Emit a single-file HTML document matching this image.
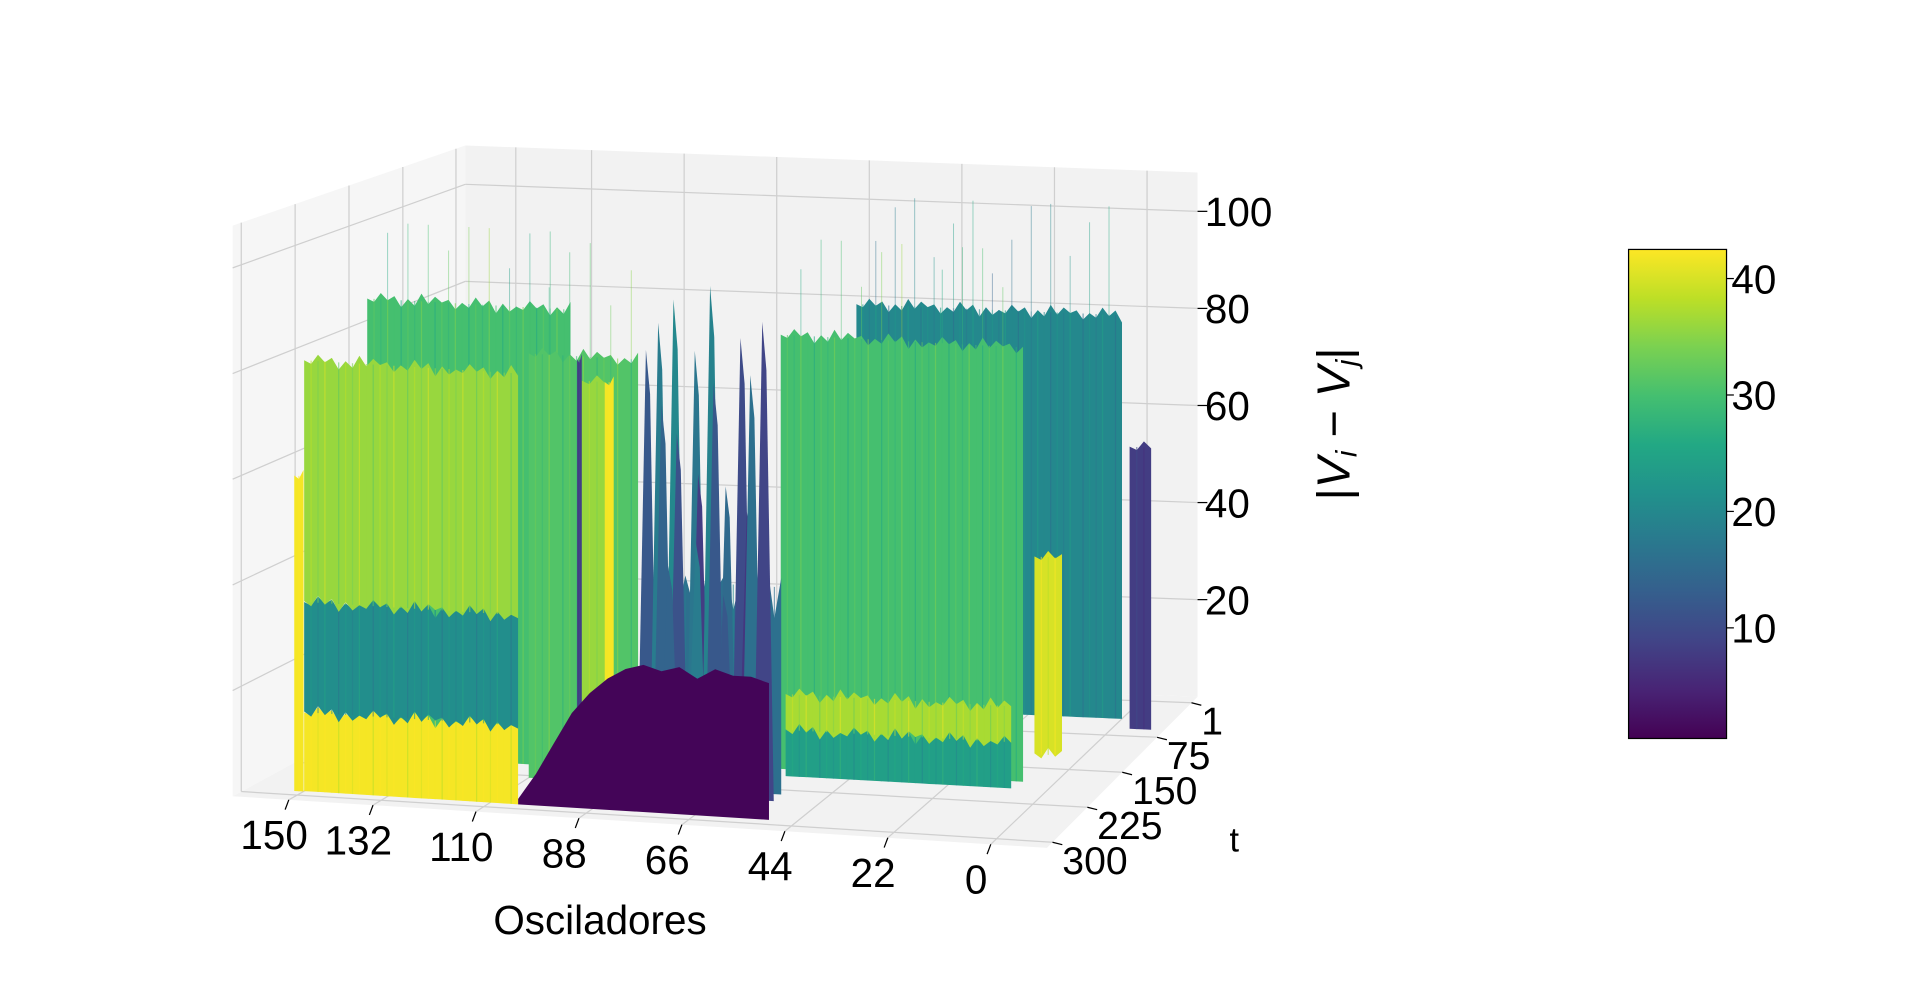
<!DOCTYPE html>
<html><head><meta charset="utf-8"><style>
html,body{margin:0;padding:0;background:#fff;}
svg{display:block;}
text{font-family:"Liberation Sans",sans-serif;fill:#000;}
</style></head><body>
<svg id="chart" width="1920" height="983" viewBox="0 0 1568 800" preserveAspectRatio="none" xmlns="http://www.w3.org/2000/svg">
<defs>
<linearGradient id="vir" x1="0" y1="1" x2="0" y2="0">
<stop offset="0" stop-color="#440154"/><stop offset="0.1" stop-color="#482475"/><stop offset="0.2" stop-color="#414487"/><stop offset="0.3" stop-color="#355f8d"/><stop offset="0.4" stop-color="#2a788e"/><stop offset="0.5" stop-color="#21918c"/><stop offset="0.6" stop-color="#22a884"/><stop offset="0.7" stop-color="#44bf70"/><stop offset="0.8" stop-color="#7ad151"/><stop offset="0.9" stop-color="#bddf26"/><stop offset="1" stop-color="#fde725"/>
</linearGradient>
</defs>
<g id="box"></g>
<g id="surf"></g>
<g id="axes"></g>
<g id="cbar"></g>
</svg>
<script>
// ---- data ----
const oscTicks=[150,132,110,88,66,44,22,0];
const tTicks=[1,75,150,225,300];
const zTicks=[20,40,60,80,100];
const cbarTicks=[10,20,30,40];
// walls: oscillator range, t position, base height, top height, color value
const wallO0=[62,-4,150,110,61,84,97,92,98,-3,58,58,150,150,150,152];
const wallO1=[0,-9,105,86,7,54,92,90,97,-9,8,8,104,104,104,150];
const wallT=[40,60,200,230,180,235,240,240,240,250,195,195,290,290,290,291];
const wallZ0=[0,0,0,0,0,0,0,0,0,12,0,9,0,15,36,0];
const wallZ1=[82,57,89,82,85,40,78,78,82,50,9,16,15,36,82,60];
const wallVal=[20,8,30,31,30,16,36,42,8,40,24,37,42,21,36,42];
// purple low region (front face heights along oscillators 104 -> 50)
const moundO0=104, moundO1=50, moundT=290;
const moundZ=[1,6,12,18,22,25,27,28,27,28,26,28,27,27,26];
const moundVal=1;
// spikes in the middle region
const spikeO=[82,80,78,76,74,72,70,68,66,64,62,60,58,56,75,69,63];
const spikeT=[245,240,250,245,255,240,250,245,255,250,240,245,255,250,262,262,262];
const spikeZ=[85,90,75,95,70,85,62,98,80,60,88,55,82,92,45,50,40];
const spikeVal=[12,18,14,20,11,17,8,19,12,15,10,7,16,9,14,18,12];

// ---- projection ----
const oMin=-12,oMax=162,tMin=-12,tMax=312,zMax=108;
const FL=[190,648],FR=[855,690],BL=[380,545],BR=[978,567];
function P(o,t,z){const u=(oMax-o)/(oMax-oMin),v=(t-tMin)/(tMax-tMin);
 const fx=FL[0]+(FR[0]-FL[0])*u,fy=FL[1]+(FR[1]-FL[1])*u;
 const bx=BL[0]+(BR[0]-BL[0])*u,by=BL[1]+(BR[1]-BL[1])*u;
 const s=3.95+(4.3-3.95)*v;return [bx+(fx-bx)*v,by+(fy-by)*v-z*s];}
const stops=["#440154","#482475","#414487","#355f8d","#2a788e","#21918c","#22a884","#44bf70","#7ad151","#bddf26","#fde725"];
function hex(h){return [parseInt(h.substr(1,2),16),parseInt(h.substr(3,2),16),parseInt(h.substr(5,2),16)];}
function vir(val){let f=Math.max(0,Math.min(1,(val-0.5)/42));const i=Math.min(9,Math.floor(f*10));const r=f*10-i;
 const a=hex(stops[i]),b=hex(stops[i+1]);return "rgb("+a.map((c,k)=>Math.round(c+(b[k]-c)*r)).join(",")+")";}
const NS="http://www.w3.org/2000/svg";
function el(tag,attrs,parent){const e=document.createElementNS(NS,tag);for(const k in attrs)e.setAttribute(k,attrs[k]);parent.appendChild(e);return e;}
function pts(a){return a.map(p=>p[0].toFixed(1)+","+p[1].toFixed(1)).join(" ");}

// ---- box ----
const box=document.getElementById('box');
let e;
e=el('polygon',{points:pts([P(oMax,tMax,0),P(oMin,tMax,0),P(oMin,tMin,0),P(oMax,tMin,0)]),fill:'#f2f2f2'},box);

e=el('polygon',{points:pts([P(oMax,tMin,0),P(oMin,tMin,0),P(oMin,tMin,zMax),P(oMax,tMin,zMax)]),fill:'#f2f2f2'},box);

e=el('polygon',{points:pts([P(oMax,tMax,0),P(oMax,tMin,0),P(oMax,tMin,zMax),P(oMax,tMax,zMax)]),fill:'#f6f6f6'},box);

function line(a,b,c,w){return el('line',{x1:a[0],y1:a[1],x2:b[0],y2:b[1],stroke:c||'#cfcfcf','stroke-width':w||1},box);}
oscTicks.forEach(o=>{e=line(P(o,tMax,0),P(o,tMin,0));
 e=line(P(o,tMin,0),P(o,tMin,zMax));});
tTicks.forEach(t=>{e=line(P(oMax,t,0),P(oMin,t,0));
 e=line(P(oMax,t,0),P(oMax,t,zMax));});
zTicks.forEach(z=>{e=line(P(oMax,tMin,z),P(oMin,tMin,z));
 e=line(P(oMax,tMax,z),P(oMax,tMin,z));});

// ---- surface ----
const surf=document.getElementById('surf');
function jag(k){return ((k*37)%11)/10;}
function drawWall(i){
 const o0=wallO0[i],o1=wallO1[i],t=wallT[i],z0=wallZ0[i],z1=wallZ1[i];
 const n=Math.max(2,Math.round(Math.abs(o0-o1)/1.5));
 const amp=z1<45&&z0===0&&z1>30?6:1.5;
 const top=[],bot=[];
 for(let k=0;k<=n;k++){const o=o0+(o1-o0)*k/n;top.push(P(o,t,z1+(k%2?-amp:amp)*jag(k)));bot.push(P(o,t,z0+(z0>0?(k%2?-1.5:1.5)*jag(k+3):0)));}
 const w=el('polygon',{points:pts(bot.concat(top.reverse())),fill:vir(wallVal[i])},surf);
 
 
 for(let k=1;k<n;k++){const o=o0+(o1-o0)*k/n;
  const p1=P(o,t,z0),p2=P(o,t,z1);
  const s=el('line',{x1:p1[0],y1:p1[1],x2:p2[0],y2:p2[1],stroke:vir(wallVal[i]+((k*3)%5)*2-4),'stroke-width':1,opacity:0.6},surf);
  
  
  if(z0===0 && z1>40 && k%3===0){const p3=P(o,t,Math.min(104,z1+6+((k*13)%17)*1.4));
   const h=el('line',{x1:p2[0],y1:p2[1],x2:p3[0],y2:p3[1],stroke:vir(wallVal[i]-6+((k*5)%7)*2),'stroke-width':0.8,opacity:0.45},surf);
   
   }
 }
}
const order=wallT.map((t,i)=>i).sort((a,b)=>wallT[a]-wallT[b]);
order.filter(i=>wallT[i]<240).forEach(drawWall);
spikeO.forEach((o,i)=>{const a=P(o-2.2,spikeT[i],0),b=P(o+2.2,spikeT[i],0),c=P(o+0.3,spikeT[i],spikeZ[i]),d=P(o-0.6,spikeT[i],spikeZ[i]*0.9);
 const s=el('polygon',{points:pts([a,b,c,d]),fill:vir(spikeVal[i])},surf);
 
 });
order.filter(i=>wallT[i]>=240 && wallT[i]<290).forEach(drawWall);
(function(){const n=moundZ.length;const top=[];
 for(let k=0;k<n;k++){const o=moundO0+(moundO1-moundO0)*k/(n-1);top.push(P(o,moundT,moundZ[k]));}
 const f=el('polygon',{points:pts([P(moundO0,moundT,0)].concat(top,[P(moundO1,moundT,0)])),fill:vir(moundVal)},surf);
 
 })();
order.filter(i=>wallT[i]>=290).forEach(drawWall);

// ---- axes labels ----
const ax=document.getElementById('axes');
function txt(s,x,y,size,anchor,name){const t=el('text',{x:x,y:y,'font-size':size,'text-anchor':anchor||'middle'},ax);t.textContent=s;
 return t;}
oscTicks.forEach(o=>{const p=P(o,tMax,0);
 e=el('line',{x1:p[0],y1:p[1],x2:p[0]-3,y2:p[1]+8,stroke:'#000','stroke-width':1},ax);
 
 txt(String(o),p[0]-12,p[1]+40,33,'middle','x-tick-label');});
tTicks.forEach(t=>{const p=P(oMin,t,0);
 e=el('line',{x1:p[0],y1:p[1],x2:p[0]+8,y2:p[1]+2,stroke:'#000','stroke-width':1},ax);
 
 txt(String(t),p[0]+8,p[1]+26,32,'start','t-tick-label');});
zTicks.forEach(z=>{const p=P(oMin,tMin,z);
 e=el('line',{x1:p[0],y1:p[1],x2:p[0]+8,y2:p[1],stroke:'#000','stroke-width':1},ax);
 
 txt(String(z),p[0]+6,p[1]+12,33,'start','z-tick-label');});
txt('Osciladores',490,760,33,'middle','x-axis-title');
txt('t',1008,693,28,'middle','t-axis-title');
const zl=el('text',{x:0,y:0,'font-size':38,'text-anchor':'middle',transform:'translate(1102,345) rotate(-90)','font-family':'Liberation Serif, serif'},ax);


zl.innerHTML='|<tspan font-style="italic">V</tspan><tspan font-style="italic" font-size="24" dy="6">i</tspan><tspan dy="-6"> − </tspan><tspan font-style="italic">V</tspan><tspan font-style="italic" font-size="24" dy="6">j</tspan><tspan dy="-6">|</tspan>';

// ---- colorbar ----
const cb=document.getElementById('cbar');
e=el('rect',{x:1330,y:203,width:80,height:398,fill:'url(#vir)',stroke:'#000','stroke-width':1},cb);

cbarTicks.forEach(v=>{const y=601-(v-0.5)/42*398;
 const l=el('line',{x1:1410,y1:y,x2:1416,y2:y,stroke:'#000','stroke-width':1},cb);
 
 const t=el('text',{x:1414,y:y+12,'font-size':33,'text-anchor':'start'},cb);t.textContent=String(v);
 });
</script>
</body></html>
